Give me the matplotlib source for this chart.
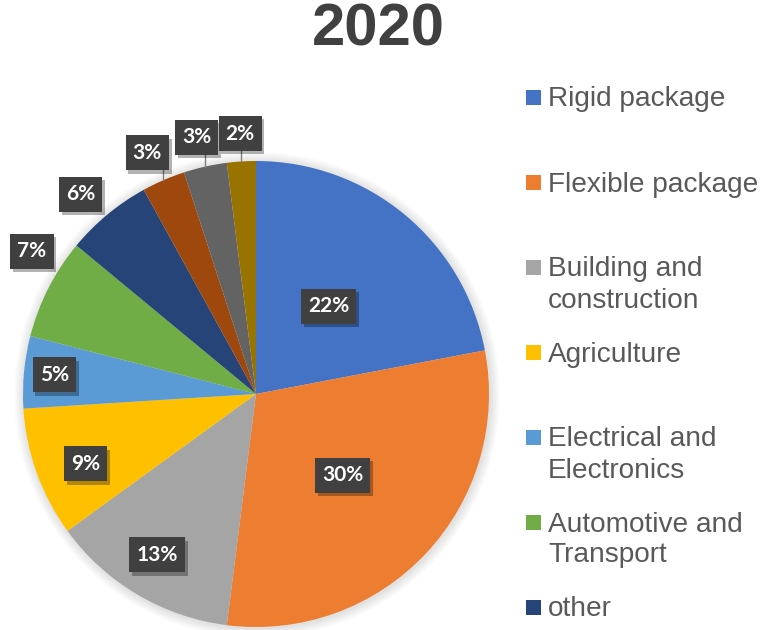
import matplotlib
matplotlib.use("Agg")
import matplotlib.pyplot as plt
import matplotlib.patheffects as pe
import numpy as np
from matplotlib.patches import Rectangle, Circle

title = "2020"
categories = [
    "Rigid package",
    "Flexible package",
    "Building and\nconstruction",
    "Agriculture",
    "Electrical and\nElectronics",
    "Automotive and\nTransport",
    "other",
]
shares = [22, 30, 13, 9, 5, 7, 6, 3, 3, 2]
colors = ["#4472C4", "#ED7D31", "#A5A5A5", "#FFC000", "#5B9BD5",
          "#70AD47", "#264478", "#9E480E", "#636363", "#997300"]

# label placement: distance from centre (in radii), angular nudge (deg),
# and whether a leader line joins the label to its slice
label_radius = [0.49, 0.51, 0.81, 0.79, 0.87, 1.14, 1.14, 1.135, 1.13, 1.12]
label_nudge = [0, 0, -1, 2.5, 0, -5.5, 1.7, 0.9, 0.4, -0.1]
label_leader = [False] * 7 + [True] * 3

W, H = 764, 630
fig = plt.figure(figsize=(W / 100, H / 100), dpi=100)
ax = fig.add_axes([0, 0, 1, 1])

cx, cy, R = 256, H - 394, 233

# soft glow behind the pie
for k in range(10, 0, -1):
    ax.add_patch(Circle((cx + 1, cy - 1), R + k, color="black", alpha=0.012,
                        lw=0, zorder=0))

wedges, _ = ax.pie(shares, colors=colors, startangle=90, counterclock=False,
                   center=(cx, cy), radius=R,
                   wedgeprops=dict(linewidth=0))
for w in wedges:
    w.set_zorder(1)

ax.set_xlim(0, W)
ax.set_ylim(0, H)
ax.set_aspect("auto")
ax.axis("off")

renderer = fig.canvas.get_renderer()
box_shadow = [pe.SimplePatchShadow(offset=(2, -2.5), shadow_rgbFace="black",
                                   alpha=0.3), pe.Normal()]
box_h = 35
for w, v, rf, nd, lead in zip(wedges, shares, label_radius, label_nudge,
                              label_leader):
    mid = np.deg2rad((w.theta1 + w.theta2) / 2 + nd)
    x = cx + rf * R * np.cos(mid)
    y = cy + rf * R * np.sin(mid)
    t = ax.text(x, y, f"{v}%", ha="center", va="center", color="white",
                zorder=4, family="Lato", fontsize=15, fontweight="bold")
    bw = t.get_window_extent(renderer).width + 14
    ax.add_patch(Rectangle((x - bw / 2, y - box_h / 2), bw, box_h,
                           fc="#404040", ec="none", zorder=3,
                           path_effects=box_shadow))
    if lead:
        mid_edge = np.deg2rad((w.theta1 + w.theta2) / 2)
        ex = cx + R * np.cos(mid_edge)
        ey = cy + R * np.sin(mid_edge)
        ax.plot([ex, ex], [ey, y - box_h / 2], color="#7f7f7f", lw=1,
                zorder=2)

# title
ax.text(378, H - 30, title, ha="center", va="center", fontsize=43,
        fontweight="bold", family="Liberation Sans", color="#404040")

# legend
leg_top, leg_step, line_step = 97, 85, 31
for i, (name, col) in enumerate(zip(categories, colors)):
    yc = leg_top + i * leg_step
    ax.add_patch(Rectangle((526, H - (yc + 7.5)), 15, 15, fc=col, ec="none"))
    for j, line in enumerate(name.split("\n")):
        ax.text(548, H - (yc + 9.5 + j * line_step), line, ha="left",
                va="baseline", fontsize=20.2, family="Liberation Sans",
                color="#595959")

fig.savefig("out.png", dpi=100)
